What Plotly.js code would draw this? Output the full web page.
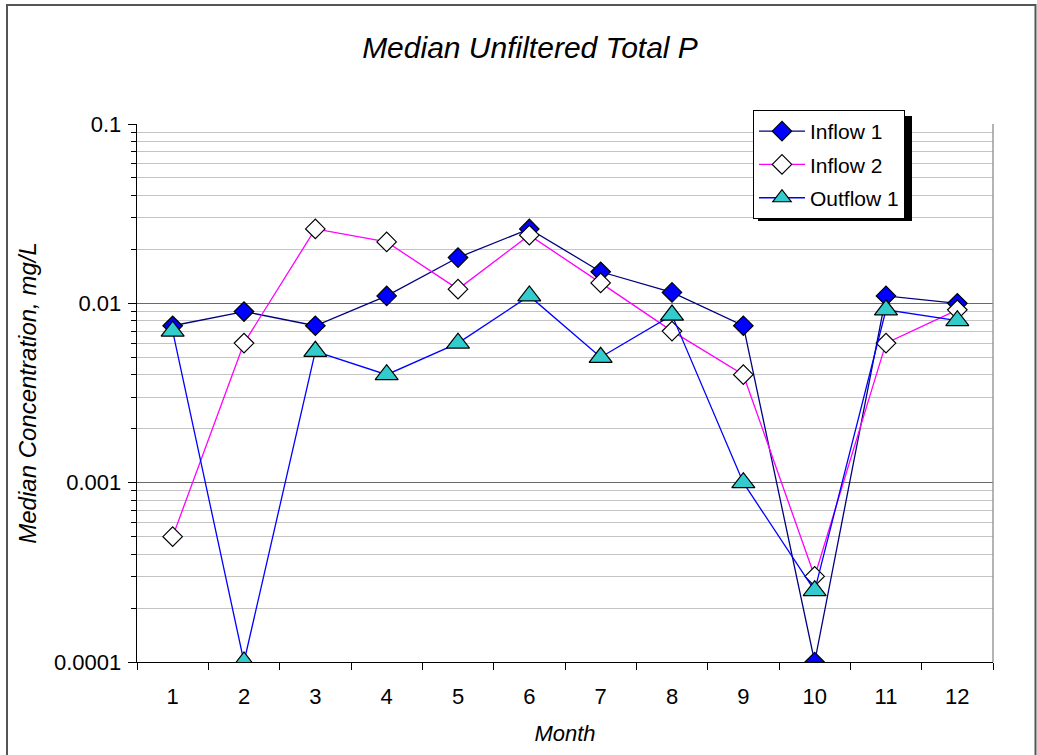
<!DOCTYPE html>
<html>
<head>
<meta charset="utf-8">
<script src="https://cdn.plot.ly/plotly-3.0.1.min.js"></script>
<style>
  html, body { margin: 0; padding: 0; background: #fff; }
  #chart { width: 1037px; height: 755px; }
</style>
</head>
<body>
<div id="chart"></div>
<script>
// Monthly median unfiltered total phosphorus, mg/L
const months = ['1', '2', '3', '4', '5', '6', '7', '8', '9', '10', '11', '12'];
const inflow1 = [0.0075, 0.009, 0.0075, 0.011, 0.018, 0.026, 0.015, 0.0115, 0.0075, 0.0001, 0.011, 0.01];
const inflow2 = [0.0005, 0.006, 0.026, 0.022, 0.012, 0.024, 0.013, 0.007, 0.004, 0.0003, 0.006, 0.0092];
const outflow1 = [0.007, 0.0001, 0.0054, 0.004, 0.006, 0.011, 0.005, 0.0086, 0.001, 0.00025, 0.0092, 0.008];
const yTickVals = [0.0001, 0.001, 0.01, 0.1];
const yTickText = ['0.0001', '0.001', '0.01', '0.1'];

// minor ticks at 2..9 within each decade
const minorVals = [];
[0.0001, 0.001, 0.01].forEach(function (d) {
  for (let k = 2; k <= 9; k++) minorVals.push(+(d * k).toPrecision(3));
});

const font = 'Arial, "Liberation Sans", sans-serif';

const traces = [
  {
    name: 'Inflow 1', x: months, y: inflow1, type: 'scatter', mode: 'lines+markers', legendgroup: 'a',
    line: { color: '#000080', width: 1.3 },
    marker: { symbol: 'diamond', size: 15, color: '#0000FF', line: { color: '#000000', width: 1.2 } }
  },
  {
    name: 'Inflow 2', x: months, y: inflow2, type: 'scatter', mode: 'lines+markers', legendgroup: 'b',
    line: { color: '#FF00FF', width: 1.3 },
    marker: { symbol: 'diamond', size: 15, color: '#FFFFFF', line: { color: '#000000', width: 1.2 } }
  },
  {
    name: 'Outflow 1', x: months, y: outflow1, type: 'scatter', mode: 'lines+markers', legendgroup: 'c',
    line: { color: '#0000FF', width: 1.3 },
    marker: { symbol: 'triangle-up', size: 20, color: '#33CCCC', line: { color: '#000000', width: 1.2 } }
  }
];

// plot area in pixels: x 137..993, y 124..662
const px = v => (v - 137) / 856;
const py = v => (662 - v) / 538;

const layout = {
  width: 1037, height: 755,
  margin: { l: 137, r: 44, t: 124, b: 93, pad: 0 },
  paper_bgcolor: '#FFFFFF', plot_bgcolor: '#FFFFFF',
  font: { family: font, size: 22, color: '#000000' },
  showlegend: true,
  title: {
    text: 'Median Unfiltered Total P',
    font: { family: font, size: 30, style: 'italic', color: '#000000' },
    x: 530 / 1037, xref: 'container', xanchor: 'center',
    y: 1 - 47 / 755, yref: 'container', yanchor: 'middle'
  },
  xaxis: {
    type: 'category',
    range: [-0.5, 11.5],
    tickson: 'boundaries',
    ticks: 'outside', ticklen: 7, tickwidth: 1, tickcolor: '#000000',
    showgrid: false, zeroline: false,
    showline: true, linecolor: '#000000', linewidth: 1.3,
    tickfont: { family: font, size: 22, color: '#000000' },
    ticklabelstandoff: 14,
    title: { text: 'Month', font: { family: font, size: 22, style: 'italic' }, standoff: 18 }
  },
  yaxis: {
    type: 'log',
    range: [-4, -1],
    tickvals: yTickVals, ticktext: yTickText,
    ticks: 'outside', ticklen: 8, tickwidth: 1, tickcolor: '#000000',
    showgrid: true, gridcolor: '#6A6A6A', gridwidth: 1.2,
    zeroline: false,
    showline: true, linecolor: '#000000', linewidth: 1.3,
    tickfont: { family: font, size: 22, color: '#000000' },
    ticklabelstandoff: 2,
    minor: {
      tickvals: minorVals, ticks: 'outside', ticklen: 5, tickcolor: '#000000', tickwidth: 1,
      showgrid: true, gridcolor: '#C4C4C4', gridwidth: 1
    },
    title: { text: 'Median Concentration, mg/L', font: { family: font, size: 24, style: 'italic' }, standoff: 10 }
  },
  legend: {
    x: px(753), xanchor: 'left', y: py(110), yanchor: 'top',
    bgcolor: '#FFFFFF', bordercolor: '#000000', borderwidth: 1,
    font: { family: font, size: 21, color: '#000000' },
    tracegroupgap: 3, itemwidth: 46
  },
  shapes: [
    // legend drop shadow
    { type: 'rect', xref: 'paper', yref: 'paper', x0: px(758), x1: px(912), y0: py(221), y1: py(116),
      fillcolor: '#000000', line: { width: 0 }, layer: 'above' },
    // plot area outline (right side)
    { type: 'line', xref: 'paper', yref: 'paper', x0: 1, x1: 1, y0: 0, y1: 1,
      line: { color: '#8C8C8C', width: 1.3 }, layer: 'above' },
    // chart frame
    { type: 'rect', xref: 'paper', yref: 'paper', x0: px(7), x1: px(1035.5), y0: py(762), y1: py(5),
      fillcolor: 'rgba(0,0,0,0)', line: { color: '#555555', width: 2 }, layer: 'above' }
  ]
};

Plotly.newPlot('chart', traces, layout, { displayModeBar: false, staticPlot: true });
</script>
</body>
</html>
